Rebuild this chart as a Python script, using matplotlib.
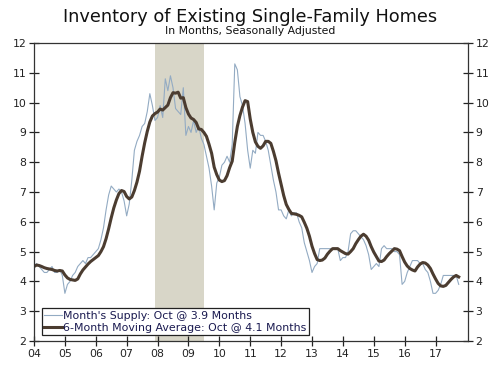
import numpy as np
import pandas as pd
import matplotlib
matplotlib.use('Agg')
import matplotlib.pyplot as plt

# monthly months' supply, Jan 2004 - Oct 2017
supply = [
    4.5, 4.6, 4.5, 4.4, 4.3, 4.3, 4.4, 4.5, 4.3, 4.3, 4.4, 4.2,       # 2004
    3.6, 3.9, 4.0, 4.2, 4.3, 4.5, 4.6, 4.7, 4.6, 4.8, 4.8, 4.9,       # 2005
    5.0, 5.1, 5.4, 5.8, 6.4, 6.9, 7.2, 7.1, 7.0, 7.1, 7.0, 6.7,       # 2006
    6.2, 6.6, 7.4, 8.4, 8.7, 8.9, 9.2, 9.3, 9.7, 10.3, 9.9, 9.4,      # 2007
    9.5, 9.9, 9.5, 10.8, 10.4, 10.9, 10.5, 9.8, 9.7, 9.6, 10.5, 8.9,  # 2008
    9.2, 9.0, 9.4, 9.0, 9.2, 8.8, 8.6, 8.2, 7.8, 7.2, 6.4, 7.3,       # 2009
    7.5, 7.9, 8.0, 8.2, 8.0, 8.6, 11.3, 11.1, 10.2, 9.9, 9.3, 8.4,    # 2010
    7.8, 8.4, 8.3, 9.0, 8.9, 8.9, 8.7, 8.4, 7.9, 7.4, 7.0, 6.4,       # 2011
    6.4, 6.2, 6.1, 6.4, 6.2, 6.3, 6.3, 6.0, 5.8, 5.3, 5.0, 4.7,       # 2012
    4.3, 4.5, 4.6, 5.1, 5.1, 5.1, 5.1, 5.1, 5.1, 5.1, 5.1, 4.7,       # 2013
    4.8, 4.8, 5.0, 5.6, 5.7, 5.7, 5.6, 5.5, 5.4, 5.2, 4.9, 4.4,       # 2014
    4.5, 4.6, 4.5, 5.1, 5.2, 5.1, 5.1, 5.1, 5.0, 5.0, 4.9, 3.9,       # 2015
    4.0, 4.3, 4.5, 4.7, 4.7, 4.7, 4.6, 4.6, 4.4, 4.3, 4.0, 3.6,       # 2016
    3.6, 3.7, 3.9, 4.2, 4.2, 4.2, 4.2, 4.2, 4.2, 3.9,                 # 2017
]
start_year = 2004
recession = (2007 + 11 / 12, 2009.5)
years = list(range(2004, 2018))
year_labels = ['%02d' % (y % 100) for y in years]
y_ticks = list(range(2, 13))

df = pd.DataFrame({'supply': supply})
df['x'] = start_year + np.arange(len(df)) / 12
df['ma'] = df['supply'].rolling(6, min_periods=1).mean()

fig = plt.figure(figsize=(5, 3.67), dpi=100)
ax = fig.add_axes([0.068, 0.0708, 0.868, 0.812])

ax.axvspan(*recession, color='#d8d6c8', lw=0, zorder=0)
ax.plot(df['x'], df['supply'], color='#93abc3', lw=0.8,
        label="Month's Supply: Oct @ 3.9 Months")
ax.plot(df['x'], df['ma'], color='#4b3c30', lw=2.2,
        label='6-Month Moving Average: Oct @ 4.1 Months')

ax.set_xlim(2004, 2018.05)
ax.set_ylim(2, 12)
ax.set_xticks(years)
ax.set_xticklabels(year_labels)
ax.set_yticks(y_ticks)
ax.tick_params(axis='both', direction='inout', length=7, width=0.9,
               labelsize=7.8, colors='#222222', pad=2)
ax.tick_params(axis='y', right=True, labelright=True)
for s in ax.spines.values():
    s.set_color('#333333')
    s.set_linewidth(0.9)

leg = ax.legend(loc='lower left', bbox_to_anchor=(0.018, 0.02), borderaxespad=0,
                fancybox=False, edgecolor='#222222', framealpha=1, fontsize=7.9,
                handlelength=1.6, handletextpad=0.15, borderpad=0.2,
                labelspacing=0.2)
leg.get_frame().set_linewidth(0.9)
for t in leg.get_texts():
    t.set_color('#1a1a50')

fig.text(0.5, 0.953, 'Inventory of Existing Single-Family Homes', ha='center',
         va='center', fontsize=12.8, color='#111111')
fig.text(0.5, 0.916, 'In Months, Seasonally Adjusted', ha='center',
         va='center', fontsize=7.8, color='#111111')

fig.savefig('out.png', dpi=100)
